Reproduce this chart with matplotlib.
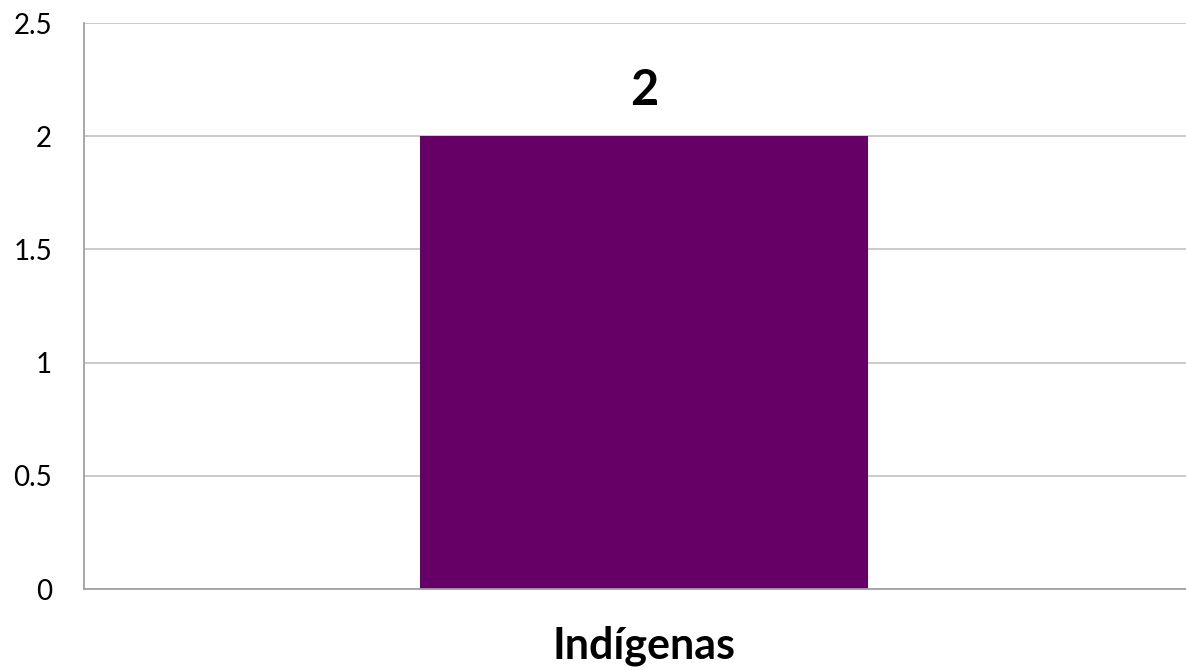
import matplotlib
matplotlib.use("Agg")
import matplotlib.pyplot as plt

categories = ["Indígenas"]
values = [2]
yticks = [0, 0.5, 1, 1.5, 2, 2.5]
ytick_labels = ["0", "0.5", "1", "1.5", "2", "2.5"]

plt.rcParams['font.family'] = ['Lato', 'DejaVu Sans']

W, H = 1186, 670
fig = plt.figure(figsize=(W/100, H/100), dpi=100)
ax = fig.add_axes([84/W, 1-589/H, (1186-84)/W, (589-23)/H])

x = list(range(len(categories)))
bars = ax.bar(x, values, width=0.4, color="#660066", zorder=3)
ax.set_xlim(-0.5, 0.484)
ax.set_ylim(0, 2.5)
ax.set_yticks(yticks)
ax.set_yticklabels(ytick_labels, fontsize=20)
ax.set_xticks(x)
ax.set_xticklabels(categories, fontsize=31, fontweight="bold")
ax.tick_params(axis='y', length=0, pad=23)
ax.tick_params(axis='x', length=0, pad=26)
ax.grid(axis='y', color="#c6c6c6", linewidth=1.3, zorder=0)
for s in ["top", "right"]:
    ax.spines[s].set_visible(False)
for s in ["left", "bottom"]:
    ax.spines[s].set_color("#a0a0a0")
    ax.spines[s].set_linewidth(1.3)
    ax.spines[s].set_zorder(4)

for xi, v in zip(x, values):
    ax.annotate(str(v), (xi, v), xytext=(0, 17), textcoords="offset points",
                ha="center", va="bottom", fontsize=35, fontweight="bold")

fig.savefig("out.png", dpi=100)
